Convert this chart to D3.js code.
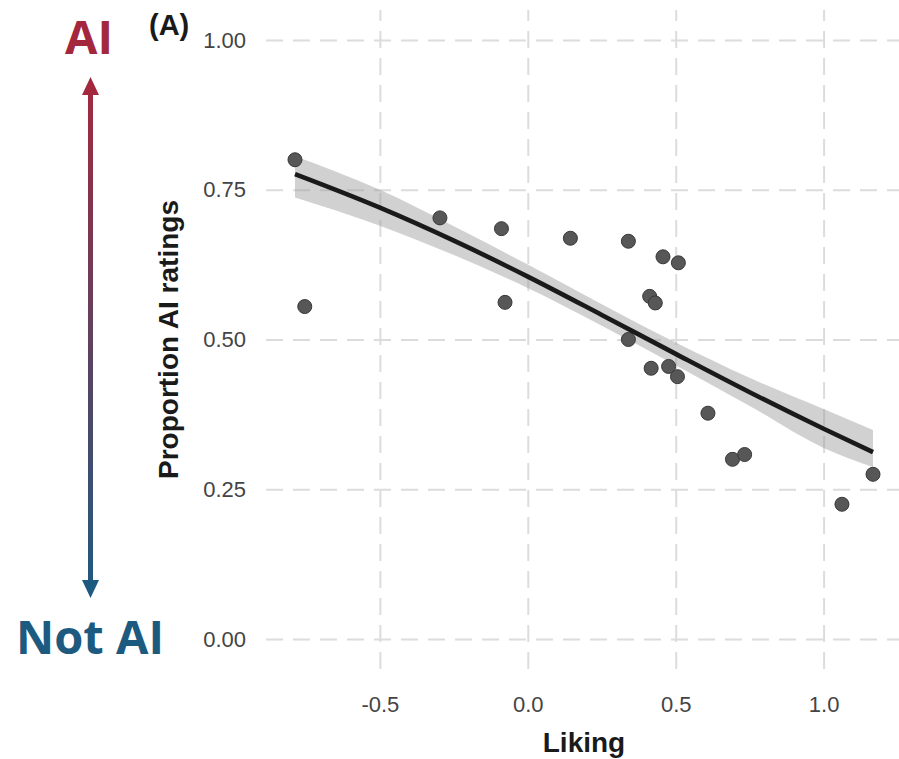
<!DOCTYPE html>
<html>
<head>
<meta charset="utf-8">
<script src="https://cdn.jsdelivr.net/npm/d3@7"></script>
<style>
  body { margin: 0; background: #fff; }
  svg text { font-family: "Liberation Sans", Arial, sans-serif; }
</style>
</head>
<body>
<script>
// Proportion of AI ratings against liking, one dot per item

// x = liking, y = proportion AI ratings
var liking = [-0.787, -0.754, -0.297, -0.089, -0.077, 0.144, 0.340, 0.457, 0.509, 0.412,
              0.431, 0.340, 0.417, 0.476, 0.506, 0.609, 0.692, 0.733, 1.062, 1.167];
var propAI = [0.800, 0.555, 0.703, 0.685, 0.562, 0.669, 0.664, 0.638, 0.628, 0.572,
              0.561, 0.500, 0.452, 0.455, 0.438, 0.377, 0.300, 0.308, 0.225, 0.275];

// fitted curve and its ribbon
var fitX  = [-0.787, -0.5, -0.25, 0, 0.25, 0.5, 0.75, 1.0, 1.167];
var fitY  = [0.776, 0.720, 0.665, 0.605, 0.541, 0.476, 0.412, 0.351, 0.312];
var fitLo = [0.737, 0.690, 0.641, 0.586, 0.523, 0.457, 0.389, 0.319, 0.287];
var fitHi = [0.806, 0.750, 0.689, 0.625, 0.559, 0.495, 0.436, 0.384, 0.349];

var xTicks = [-0.5, 0.0, 0.5, 1.0];
var yTicks = [0, 0.25, 0.5, 0.75, 1];

var WIDTH = 899;
var HEIGHT = 759;
var RED = "#a4283d";
var BLUE = "#1d5a7f";

var svg = d3.select("body").append("svg")
    .attr("width", WIDTH)
    .attr("height", HEIGHT);

// panel limits (ggplot style 5% expansion)
var x = d3.scaleLinear().domain([-0.885, 1.265]).range([266, 902]);
var y = d3.scaleLinear().domain([-0.05, 1.05]).range([669, 10]);

var panelW = x.range()[1] - x.range()[0];
var panelH = y.range()[0] - y.range()[1];

// grid + tick labels
var xAxis = svg.append("g")
    .attr("transform", "translate(0," + y.range()[0] + ")")
    .call(d3.axisBottom(x).tickValues(xTicks).tickSize(-panelH).tickPadding(27)
      .tickFormat(d3.format(".1f")));
var yAxis = svg.append("g")
    .attr("transform", "translate(" + x.range()[0] + ",0)")
    .call(d3.axisLeft(y).tickValues(yTicks).tickSize(-panelW).tickPadding(20)
      .tickFormat(d3.format(".2f")));

[xAxis, yAxis].forEach(function(ax){
  ax.select(".domain").remove();
  ax.selectAll(".tick line")
    .attr("stroke", "#dcdcdc")
    .attr("stroke-width", 2)
    .attr("stroke-dasharray", "17,10");
  ax.selectAll(".tick text")
    .attr("fill", "#444444")
    .style("font-size", "22px");
});
xAxis.selectAll(".tick text").text(function(d){ return d3.format(".1f")(d).replace("−", "-"); });

// ribbon
var fitData = fitX.map(function(d, i){
  return { x: d, y: fitY[i], lo: fitLo[i], hi: fitHi[i] };
});

svg.append("path")
  .datum(fitData)
  .attr("d", d3.area()
    .x(function(d){ return x(d.x); })
    .y0(function(d){ return y(d.lo); })
    .y1(function(d){ return y(d.hi); })
    .curve(d3.curveMonotoneX))
  .attr("fill", "#999999")
  .attr("fill-opacity", 0.45);

svg.selectAll("circle.pt")
  .data(liking)
  .enter().append("circle")
  .attr("class", "pt")
  .attr("cx", function(d){ return x(d); })
  .attr("cy", function(d, i){ return y(propAI[i]); })
  .attr("r", 7)
  .attr("fill", "#575757")
  .attr("stroke", "#383838")
  .attr("stroke-width", 1);

svg.append("path")
  .datum(fitData)
  .attr("d", d3.line()
    .x(function(d){ return x(d.x); })
    .y(function(d){ return y(d.y); })
    .curve(d3.curveMonotoneX))
  .attr("fill", "none")
  .attr("stroke", "#1a1a1a")
  .attr("stroke-width", 4.6);

// axis titles
svg.append("text")
  .attr("x", (x.range()[0] + x.range()[1]) / 2)
  .attr("y", 752)
  .attr("text-anchor", "middle")
  .style("font-size", "28px")
  .style("font-weight", "bold")
  .attr("fill", "#1a1a1a")
  .text("Liking");

svg.append("text")
  .attr("transform", "translate(178," + (y.range()[0] + y.range()[1]) / 2 + ") rotate(-90)")
  .attr("text-anchor", "middle")
  .style("font-size", "28px")
  .style("font-weight", "bold")
  .attr("fill", "#1a1a1a")
  .text("Proportion AI ratings");

svg.append("text")
  .attr("x", 149)
  .attr("y", 35)
  .style("font-size", "29px")
  .style("font-weight", "bold")
  .attr("fill", "#1a1a1a")
  .text("(A)");

// side arrow: AI at the top, Not AI at the bottom
var grad = svg.append("defs").append("linearGradient")
    .attr("id", "arrowGrad")
    .attr("gradientUnits", "userSpaceOnUse")
    .attr("x1", 0).attr("y1", 78)
    .attr("x2", 0).attr("y2", 598);
grad.append("stop").attr("offset", "0%").attr("stop-color", RED);
grad.append("stop").attr("offset", "100%").attr("stop-color", BLUE);

var ax0 = 90.5;
svg.append("line")
  .attr("x1", ax0).attr("x2", ax0)
  .attr("y1", 92).attr("y2", 584)
  .attr("stroke", "url(#arrowGrad)")
  .attr("stroke-width", 5);
svg.append("path")
  .attr("d", "M" + ax0 + ",77 L" + (ax0 + 8.5) + ",95 L" + (ax0 - 8.5) + ",95 Z")
  .attr("fill", RED);
svg.append("path")
  .attr("d", "M" + ax0 + ",598 L" + (ax0 + 8.5) + ",580 L" + (ax0 - 8.5) + ",580 Z")
  .attr("fill", BLUE);

svg.append("text")
  .attr("x", 89)
  .attr("y", 54)
  .attr("text-anchor", "middle")
  .style("font-family", "'Open Sans', 'Noto Sans', sans-serif")
  .style("font-size", "47px")
  .style("font-weight", "bold")
  .attr("fill", RED)
  .text("AI");

svg.append("text")
  .attr("x", 90)
  .attr("y", 654)
  .attr("text-anchor", "middle")
  .style("font-family", "'Open Sans', 'Noto Sans', sans-serif")
  .style("font-size", "47px")
  .style("font-weight", "bold")
  .attr("fill", BLUE)
  .text("Not AI");
</script>
</body>
</html>
